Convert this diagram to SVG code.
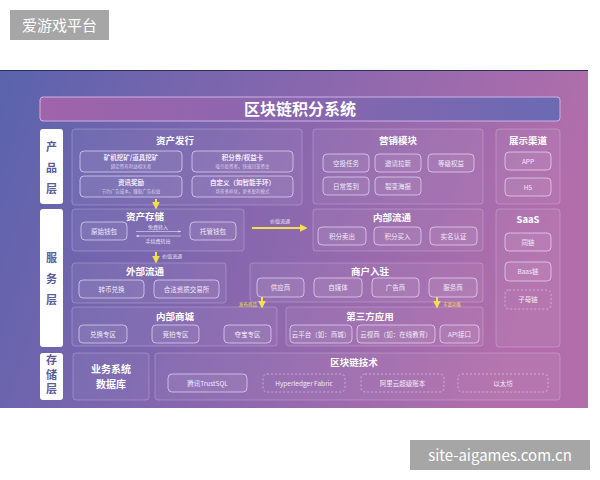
<svg xmlns="http://www.w3.org/2000/svg" width="600" height="480" viewBox="0 0 600 480">
<defs>
<linearGradient id="bg" x1="0" y1="0" x2="1" y2="0.2">
<stop offset="0" stop-color="#5a63ad"/>
<stop offset="0.5" stop-color="#8767ae"/>
<stop offset="1" stop-color="#b26eab"/>
</linearGradient>
<linearGradient id="tb" x1="0" y1="0" x2="1" y2="0">
<stop offset="0" stop-color="#a064ab"/>
<stop offset="0.5" stop-color="#8966ae"/>
<stop offset="1" stop-color="#6a6ab3"/>
</linearGradient>
<marker id="ya" viewBox="0 0 10 10" refX="8" refY="5" markerWidth="4" markerHeight="4" orient="auto">
<path d="M0,0 L10,5 L0,10 z" fill="#f3e04a"/>
</marker>
<marker id="wa" viewBox="0 0 10 10" refX="9" refY="5" markerWidth="5" markerHeight="5" orient="auto">
<path d="M0,2 L10,5 L0,8 z" fill="#e8e0f4"/>
</marker>
</defs>
<style>
.grp{fill:rgba(255,255,255,0.05);stroke:rgba(235,220,250,0.35);stroke-width:0.8}
.box{fill:rgba(255,255,255,0.06);stroke:rgba(240,230,255,0.7);stroke-width:0.9}
.dash{fill:none;stroke:rgba(240,230,255,0.55);stroke-width:0.9;stroke-dasharray:2 2}
.lay{fill:#ffffff}
.t{font-family:"Noto Sans CJK SC","Liberation Sans",sans-serif;fill:#ffffff;text-anchor:middle}
.gt{font-size:9.5px;font-weight:bold}
.bt{font-size:6.5px;fill:#f1ebfa}
.st{font-size:4.5px;fill:#d9cfee}
.lt{font-family:"Noto Sans CJK SC",sans-serif;font-size:11px;font-weight:bold;fill:#5b5a9a;text-anchor:middle}
.yl{font-family:"Noto Sans CJK SC",sans-serif;font-size:4.5px;fill:#f3e04a;text-anchor:middle}
.wl{font-family:"Noto Sans CJK SC",sans-serif;font-size:5px;fill:#e8e0f4;text-anchor:middle}
.ya{stroke:#f3e04a;stroke-width:2;fill:none}
.wm{font-family:"Noto Sans CJK SC",sans-serif;font-size:15px;fill:#ffffff;text-anchor:middle}
</style>
<rect width="600" height="480" fill="#ffffff"/>
<rect x="0" y="70" width="588" height="338" fill="url(#bg)"/>
<line x1="0" y1="70.5" x2="588" y2="70.5" stroke="#2d315e" stroke-width="1"/>

<g id="title">
<rect x="40" y="97" width="520" height="24" rx="3" fill="url(#tb)" stroke="#cdb0e6" stroke-width="1"/>
<text class="t" x="300" y="115" font-size="16" font-weight="bold">区块链积分系统</text>
</g>

<g id="layer-product">
<rect class="lay" x="40" y="129" width="23" height="75" rx="3"/>
<text class="lt" x="51.5" y="151">产</text>
<text class="lt" x="51.5" y="172">品</text>
<text class="lt" x="51.5" y="193">层</text>
</g>
<g id="layer-service">
<rect class="lay" x="40" y="209" width="23" height="138" rx="3"/>
<text class="lt" x="51.5" y="262">服</text>
<text class="lt" x="51.5" y="283">务</text>
<text class="lt" x="51.5" y="304">层</text>
</g>
<g id="layer-storage">
<rect class="lay" x="40" y="353" width="23" height="47" rx="3"/>
<text class="lt" x="51.5" y="376.5" font-size="9.5" writing-mode="tb" letter-spacing="3.5" style="text-orientation:upright">存储层</text>
</g>

<g id="asset-issue">
<rect class="grp" x="72" y="129" width="230" height="76" rx="3"/>
<text class="t gt" x="175" y="144">资产发行</text>
<rect class="box" x="80" y="151" width="102" height="21" rx="4"/>
<text class="t bt" x="131" y="160" font-weight="bold">矿机挖矿/道具挖矿</text>
<text class="t st" x="131" y="168">绑定所有利益相关者</text>
<rect class="box" x="192" y="151" width="101" height="21" rx="4"/>
<text class="t bt" x="242.5" y="160" font-weight="bold">积分券/权益卡</text>
<text class="t st" x="242.5" y="168">吸引投资者，快速回笼资金</text>
<rect class="box" x="80" y="176" width="102" height="21" rx="4"/>
<text class="t bt" x="131" y="185" font-weight="bold">资讯奖励</text>
<text class="t st" x="131" y="193">节约广告成本，赚取广告权益</text>
<rect class="box" x="192" y="176" width="101" height="21" rx="4"/>
<text class="t bt" x="242.5" y="185" font-weight="bold">自定义（如智能手环）</text>
<text class="t st" x="242.5" y="193">场景多样化，更多盈利模式</text>
</g>

<g id="marketing">
<rect class="grp" x="313" y="129" width="170" height="75" rx="3"/>
<text class="t gt" x="398" y="144">营销模块</text>
<rect class="box" x="323" y="154" width="46" height="18" rx="4"/>
<text class="t bt" x="346" y="165.5">空投任务</text>
<rect class="box" x="375" y="154" width="46" height="18" rx="4"/>
<text class="t bt" x="398" y="165.5">邀请拉新</text>
<rect class="box" x="428" y="154" width="46" height="18" rx="4"/>
<text class="t bt" x="451" y="165.5">等级权益</text>
<rect class="box" x="323" y="177" width="46" height="18" rx="4"/>
<text class="t bt" x="346" y="188.5">日常签到</text>
<rect class="box" x="375" y="177" width="46" height="18" rx="4"/>
<text class="t bt" x="398" y="188.5">裂变海报</text>
</g>

<g id="channels">
<rect class="grp" x="496" y="129" width="64" height="75" rx="3"/>
<text class="t gt" x="528" y="144">展示渠道</text>
<rect class="box" x="505" y="152" width="46" height="18" rx="4"/>
<text class="t bt" x="528" y="163.5">APP</text>
<rect class="box" x="505" y="178" width="46" height="18" rx="4"/>
<text class="t bt" x="528" y="189.5">H5</text>
</g>

<g id="asset-storage">
<rect class="grp" x="72" y="209" width="172" height="42" rx="3"/>
<text class="t gt" x="145" y="219.5">资产存储</text>
<rect class="box" x="81" y="222" width="46" height="18" rx="4"/>
<text class="t bt" x="104" y="233.5">原始钱包</text>
<rect class="box" x="190" y="222" width="46" height="18" rx="4"/>
<text class="t bt" x="213" y="233.5">托管钱包</text>
</g>

<g id="inner-flow">
<rect class="grp" x="313" y="209" width="170" height="42" rx="3"/>
<text class="t gt" x="392" y="221">内部流通</text>
<rect class="box" x="318" y="227" width="48" height="18" rx="4"/>
<text class="t bt" x="342" y="238.5">积分卖出</text>
<rect class="box" x="374" y="227" width="47" height="18" rx="4"/>
<text class="t bt" x="397.5" y="238.5">积分买入</text>
<rect class="box" x="430" y="227" width="47" height="18" rx="4"/>
<text class="t bt" x="453.5" y="238.5">实名认证</text>
</g>

<g id="saas">
<rect class="grp" x="496" y="209" width="64" height="138" rx="3"/>
<text class="t gt" x="528" y="223">SaaS</text>
<rect class="box" x="505" y="233" width="46" height="18" rx="4"/>
<text class="t bt" x="528" y="244.5">同链</text>
<rect class="box" x="505" y="262" width="46" height="19" rx="4"/>
<text class="t bt" x="528" y="274">Baas链</text>
<rect class="dash" x="505" y="290" width="46" height="19" rx="4"/>
<text class="t bt" x="528" y="302">子母链</text>
</g>

<g id="outer-flow">
<rect class="grp" x="72" y="263" width="154" height="40" rx="3"/>
<text class="t gt" x="145" y="275">外部流通</text>
<rect class="box" x="79" y="280" width="65" height="18" rx="4"/>
<text class="t bt" x="111.5" y="291.5">转币兑换</text>
<rect class="box" x="154" y="280" width="65" height="18" rx="4"/>
<text class="t bt" x="186.5" y="291.5">合法资质交易所</text>
</g>

<g id="merchant">
<rect class="grp" x="250" y="263" width="233" height="39" rx="3"/>
<text class="t gt" x="370" y="275">商户入驻</text>
<rect class="box" x="257" y="278" width="47" height="19" rx="4"/>
<text class="t bt" x="280.5" y="290">供应商</text>
<rect class="box" x="314" y="278" width="48" height="19" rx="4"/>
<text class="t bt" x="338" y="290">自媒体</text>
<rect class="box" x="372" y="278" width="47" height="19" rx="4"/>
<text class="t bt" x="395.5" y="290">广告商</text>
<rect class="box" x="429" y="278" width="48" height="19" rx="4"/>
<text class="t bt" x="453" y="290">服务商</text>
</g>

<g id="mall">
<rect class="grp" x="72" y="307" width="205" height="39" rx="3"/>
<text class="t gt" x="175" y="320">内部商城</text>
<rect class="box" x="79" y="325" width="48" height="18" rx="4"/>
<text class="t bt" x="103" y="336.5">兑换专区</text>
<rect class="box" x="152" y="325" width="47" height="18" rx="4"/>
<text class="t bt" x="175.5" y="336.5">竞拍专区</text>
<rect class="box" x="224" y="325" width="47" height="18" rx="4"/>
<text class="t bt" x="247.5" y="336.5">夺宝专区</text>
</g>

<g id="third-party">
<rect class="grp" x="286" y="307" width="197" height="39" rx="3"/>
<text class="t gt" x="370" y="320">第三方应用</text>
<rect class="box" x="290" y="325" width="62" height="18" rx="4"/>
<text class="t bt" x="321" y="336.5">云平台（如：商城）</text>
<rect class="box" x="357" y="325" width="78" height="18" rx="4"/>
<text class="t bt" x="396" y="336.5">云视商（如：在线教育）</text>
<rect class="box" x="440" y="325" width="39" height="18" rx="4"/>
<text class="t bt" x="459.5" y="336.5">API接口</text>
</g>

<g id="database">
<rect class="grp" x="73" y="353" width="76" height="47" rx="3"/>
<text class="t" x="111" y="373" font-size="10" font-weight="bold">业务系统</text>
<text class="t" x="111" y="388" font-size="10" font-weight="bold">数据库</text>
</g>

<g id="blockchain">
<rect class="grp" x="155" y="353" width="405" height="47" rx="3"/>
<text class="t gt" x="354" y="366">区块链技术</text>
<rect class="box" x="168" y="374" width="79" height="18" rx="4"/>
<text class="t bt" x="207.5" y="385.5">腾讯TrustSQL</text>
<rect class="dash" x="263" y="374" width="82" height="18" rx="4"/>
<text class="t bt" x="304" y="385.5">Hyperledger Fabric</text>
<rect class="dash" x="361" y="374" width="83" height="18" rx="4"/>
<text class="t bt" x="402.5" y="385.5">阿里云超级账本</text>
<rect class="dash" x="458" y="374" width="90" height="18" rx="4"/>
<text class="t bt" x="503" y="385.5">以太坊</text>
</g>

<g id="connectors">
<line class="ya" x1="156" y1="199" x2="156" y2="208" marker-end="url(#ya)"/>
<line class="ya" x1="252" y1="228" x2="306" y2="228" marker-end="url(#ya)"/>
<text class="wl" x="280" y="223">价值流通</text>
<line class="ya" x1="156" y1="252" x2="156" y2="262" marker-end="url(#ya)"/>
<text class="wl" x="172" y="258">价值流通</text>
<line x1="136" y1="231.5" x2="181" y2="231.5" stroke="#e8e0f4" stroke-width="0.6" marker-end="url(#wa)"/>
<text class="wl" x="158" y="229">免费转入</text>
<line x1="181" y1="236" x2="136" y2="236" stroke="#e8e0f4" stroke-width="0.6" marker-end="url(#wa)"/>
<text class="wl" x="158" y="242.5">手续费转出</text>
<line class="ya" x1="262" y1="297" x2="262" y2="307" stroke-width="1.5" marker-end="url(#ya)"/>
<text class="yl" x="248" y="306">发布商品</text>
<line class="ya" x1="437" y1="297" x2="437" y2="307" stroke-width="1.5" marker-end="url(#ya)"/>
<text class="yl" x="452" y="306">丰富功能</text>
</g>

<g id="watermarks">
<rect x="10" y="10" width="99" height="30" fill="#a6a6a6"/>
<text class="wm" x="59.5" y="30.5">爱游戏平台</text>
<rect x="410" y="440" width="180" height="30" fill="#a6a6a6"/>
<text class="wm" x="500" y="460.5" font-family="Liberation Sans,sans-serif">site-aigames.com.cn</text>
</g>
</svg>
